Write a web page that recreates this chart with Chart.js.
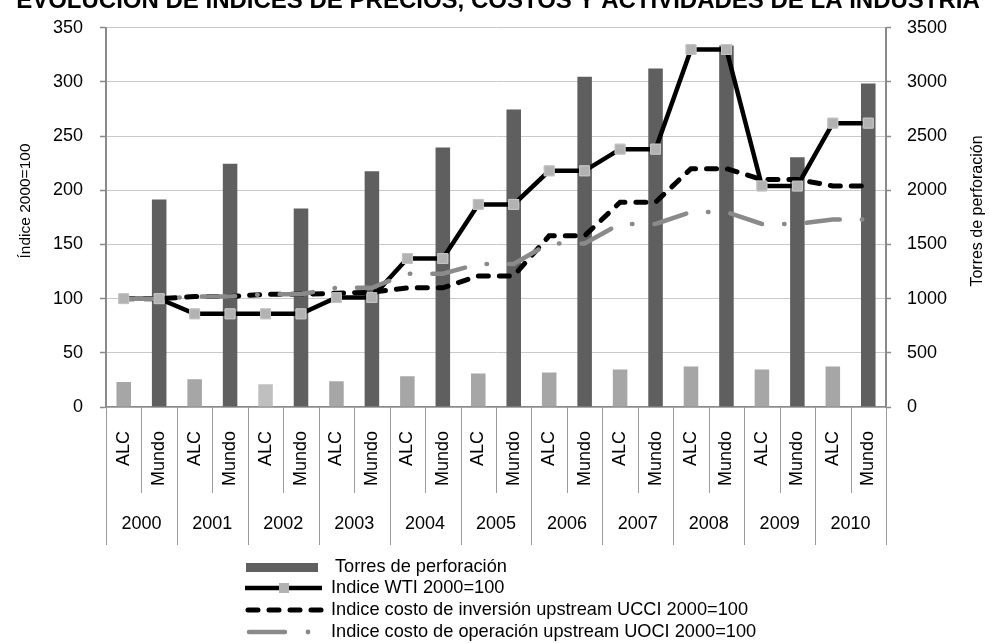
<!DOCTYPE html>
<html><head><meta charset="utf-8">
<script src="https://cdn.jsdelivr.net/npm/chart.js@4.4.1/dist/chart.umd.min.js"></script>
<style>html,body{margin:0;padding:0;background:#fff;overflow:hidden}canvas{display:block}</style>
</head><body>
<canvas id="c" width="989" height="643"></canvas>
<script>
// ---- data ----
const years = ['2000','2001','2002','2003','2004','2005','2006','2007','2008','2009','2010'];
const groups = ['ALC','Mundo'];
const categories = ['ALC','Mundo','ALC','Mundo','ALC','Mundo','ALC','Mundo','ALC','Mundo','ALC','Mundo','ALC','Mundo','ALC','Mundo','ALC','Mundo','ALC','Mundo','ALC','Mundo'];
const torres = [230,1915, 255,2245, 210,1832, 237,2175, 283,2396, 310,2747, 319,3048, 346,3124, 374,3336, 346,2305, 374,2986];
const wti    = [100,100, 86,86, 86,86, 101,101, 137,137, 187,187, 218,218, 238,238, 330,330, 204,204, 262,262];
const ucci   = [100,100, 102,102, 104,104, 105,106, 110,110, 121,121, 158,158, 189,189, 220,220, 210,210, 204,204];
const uoci   = [100,100, 102,102, 104,104, 110,110, 123,123, 132,132, 151,151, 169,169, 180,180, 169,169, 173,173];
const seriesNames = ['Torres de perforación','Indice WTI 2000=100','Indice costo de inversión upstream UCCI 2000=100','Indice costo de operación upstream UOCI 2000=100'];
const titleText = 'EVOLUCIÓN DE ÍNDICES DE PRECIOS, COSTOS Y ACTIVIDADES DE LA INDUSTRIA';
const leftAxisTitle = 'Índice 2000=100';
const rightAxisTitle = 'Torres de perforación';

const FONT = '"Liberation Sans", Arial, sans-serif';
const FS = 18;
const barColors = categories.map((c, i) => c === 'ALC' ? (i === 4 ? '#bfbfbf' : '#a6a6a6') : '#5f5f5f');

const customPlugin = {
  id: 'custom',
  afterDatasetsDraw(chart) {
    const meta = chart.getDatasetMeta(1);
    meta.data.forEach(p => p.draw(chart.ctx, chart.chartArea));
  },
  afterDraw(chart) {
    const ctx = chart.ctx, xs = chart.scales.x, area = chart.chartArea;
    ctx.save();
    // title (clipped at top)
    ctx.fillStyle = '#000';
    ctx.font = 'bold 24px ' + FONT;
    ctx.textAlign = 'center'; ctx.textBaseline = 'alphabetic';
    ctx.fillText(titleText, 498, 8);
    // axis titles
    ctx.font = '15.5px ' + FONT; ctx.textBaseline = 'middle';
    ctx.save(); ctx.translate(26, 201); ctx.rotate(-Math.PI/2); ctx.fillText(leftAxisTitle, 0, 0); ctx.restore();
    ctx.font = '16px ' + FONT;
    ctx.save(); ctx.translate(978, 211); ctx.rotate(-Math.PI/2); ctx.fillText(rightAxisTitle, 0, 0); ctx.restore();
    // category separators
    const n = categories.length;
    const half = (xs.getPixelForValue(1) - xs.getPixelForValue(0)) / 2;
    ctx.strokeStyle = '#9a9a9a'; ctx.lineWidth = 1;
    for (let i = 0; i <= n; i++) {
      const px = i < n ? xs.getPixelForValue(i) - half : xs.getPixelForValue(n - 1) + half;
      const bottom = (i % 2 === 0) ? 545 : 493;
      ctx.beginPath(); ctx.moveTo(Math.round(px) + 0.5, area.bottom); ctx.lineTo(Math.round(px) + 0.5, bottom); ctx.stroke();
    }
    // category labels
    ctx.font = FS + 'px ' + FONT; ctx.fillStyle = '#000';
    for (let i = 0; i < n; i++) {
      const cx = xs.getPixelForValue(i);
      ctx.save(); ctx.translate(cx, 431); ctx.rotate(-Math.PI/2);
      ctx.textAlign = 'right'; ctx.textBaseline = 'middle';
      ctx.fillText(categories[i], 0, 0); ctx.restore();
    }
    ctx.textAlign = 'center'; ctx.textBaseline = 'middle';
    years.forEach((y, k) => {
      const cx = (xs.getPixelForValue(2*k) + xs.getPixelForValue(2*k+1)) / 2;
      ctx.fillText(y, cx, 524);
    });
    // legend
    const rows = [567, 588, 610, 632];
    ctx.fillStyle = '#5f5f5f'; ctx.fillRect(246, rows[0] - 4, 72, 9);
    ctx.lineCap = 'butt';
    ctx.strokeStyle = '#000'; ctx.lineWidth = 4.5;
    ctx.beginPath(); ctx.moveTo(245, rows[1]); ctx.lineTo(322, rows[1]); ctx.stroke();
    ctx.fillStyle = '#b2b2b2'; ctx.fillRect(279, rows[1] - 5, 10, 10);
    ctx.lineCap = 'round'; ctx.setLineDash([10, 11]); ctx.lineWidth = 5;
    ctx.beginPath(); ctx.moveTo(248, rows[2]); ctx.lineTo(322, rows[2]); ctx.stroke();
    ctx.setLineDash([]); ctx.strokeStyle = '#8a8a8a'; ctx.lineWidth = 4.5;
    ctx.beginPath(); ctx.moveTo(249, rows[3]); ctx.lineTo(285, rows[3]); ctx.stroke();
    ctx.fillStyle = '#8a8a8a'; ctx.beginPath(); ctx.arc(308, rows[3], 2.4, 0, Math.PI*2); ctx.fill();
    ctx.fillStyle = '#000'; ctx.font = '18.2px ' + FONT; ctx.textAlign = 'left'; ctx.textBaseline = 'middle';
    ctx.fillText(seriesNames[0], 335, rows[0]);
    ctx.fillText(seriesNames[1], 331, rows[1]);
    ctx.fillText(seriesNames[2], 331, rows[2]);
    ctx.fillText(seriesNames[3], 331, rows[3]);
    ctx.restore();
  }
};

new Chart(document.getElementById('c'), {
  data: {
    labels: categories,
    datasets: [
      { type: 'bar', label: seriesNames[0], data: torres, yAxisID: 'y1', backgroundColor: barColors,
        barPercentage: 0.41, categoryPercentage: 1, order: 4 },
      { type: 'line', label: seriesNames[1], data: wti, yAxisID: 'y', borderColor: '#000', borderWidth: 4.5,
        pointStyle: 'rect', pointRadius: 7, pointBackgroundColor: '#b2b2b2', pointBorderColor: '#c4c4c4', pointBorderWidth: 1,
        tension: 0, order: 3 },
      { type: 'line', label: seriesNames[2], data: ucci, yAxisID: 'y', borderColor: '#000', borderWidth: 5,
        borderDash: [10, 11], borderCapStyle: 'round', pointRadius: 0, tension: 0, order: 2 },
      { type: 'line', label: seriesNames[3], data: uoci, yAxisID: 'y', borderColor: '#8a8a8a', borderWidth: 4.5,
        borderDash: [33.5, 22, 0.5, 22], borderCapStyle: 'round', pointRadius: 0, tension: 0, order: 1 }
    ]
  },
  options: {
    responsive: false, animation: false, devicePixelRatio: 1,
    layout: { padding: { top: 23, left: 0, right: 0, bottom: 0 } },
    plugins: { legend: { display: false }, tooltip: { enabled: false }, title: { display: false } },
    scales: {
      x: { type: 'category', offset: true, grid: { display: false }, ticks: { display: false },
           border: { color: '#8a8a8a', width: 1.5 },
           afterFit(s) { s.height = 236; } },
      y: { position: 'left', min: 0, max: 350,
           ticks: { stepSize: 50, color: '#000', font: { family: FONT, size: FS }, padding: 17, callback: v => String(v) },
           grid: { color: '#cacaca', borderDash: [4, 3], tickLength: 6, tickColor: '#8a8a8a', tickBorderDash: [], tickWidth: 1.5 },
           border: { color: '#8a8a8a', width: 2 },
           afterFit(s) { s.width = 106; } },
      y1: { position: 'right', min: 0, max: 3500,
           ticks: { stepSize: 500, color: '#000', font: { family: FONT, size: FS }, padding: 16, callback: v => String(v) },
           grid: { drawOnChartArea: false, tickLength: 5, tickColor: '#8a8a8a', tickWidth: 1.5 },
           border: { color: '#8a8a8a', width: 2 },
           afterFit(s) { s.width = 103; } }
    }
  },
  plugins: [customPlugin]
});
</script>
</body></html>
